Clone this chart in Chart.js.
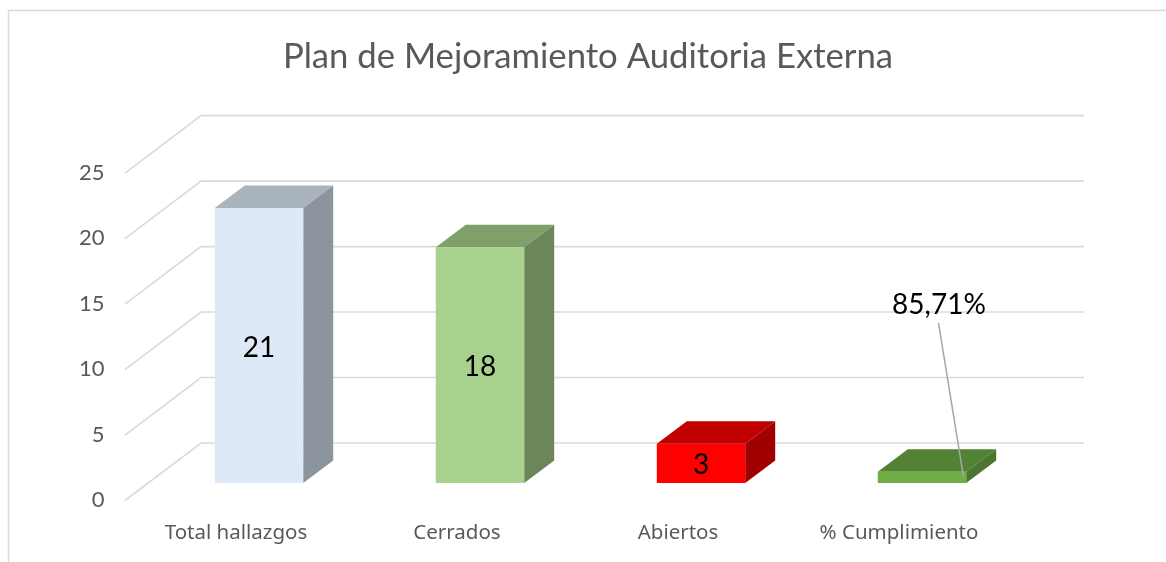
<!DOCTYPE html>
<html><head><meta charset="utf-8">
<style>html,body{margin:0;padding:0;background:#fff}#w{width:1166px;height:562px}canvas{display:block}</style>
<script src="https://cdn.jsdelivr.net/npm/chart.js@4"></script>
</head><body><div id="w"><canvas id="c" width="1166" height="562"></canvas></div>
<script>
const titleText = "Plan de Mejoramiento Auditoria Externa";
const categories = ["Total hallazgos", "Cerrados", "Abiertos", "% Cumplimiento"];
const values = [21, 18, 3, 0.8571];
const valueLabels = ["21", "18", "3", "85,71%"];
const frontColors = ["#DEE9F7", "#A9D18E", "#FF0000", "#70AD47"];
const topColors = ["#A8B3BC", "#7F9F6B", "#C00000", "#548235"];
const sideColors = ["#8C959D", "#6C855B", "#A00000", "#4B7530"];
const FONT = "Lato, sans-serif";
const DX = 30, DY = 22.5;

const scene = {
  id: 'scene',
  afterLayout(chart) { chart.scales.y.left = 0; },
  beforeDatasetsDraw(chart) {
    const c = chart.ctx, y = chart.scales.y;
    c.save();
    c.strokeStyle = '#D9D9D9'; c.lineWidth = 1.5;
    c.beginPath(); c.moveTo(8.5, 562); c.lineTo(8.5, 10.5); c.lineTo(1166, 10.5); c.stroke();
    c.lineWidth = 1.6; c.strokeStyle = '#DADADA';
    y.ticks.forEach(t => {
      const py = y.getPixelForValue(t.value) - 40;
      c.beginPath(); c.moveTo(125, py + 57.5); c.lineTo(201, py); c.lineTo(1084, py); c.stroke();
    });
    c.restore();
    const els = chart.getDatasetMeta(0).data;
    els.forEach((e, i) => {
      const l = e.x - e.width / 2, r = e.x + e.width / 2;
      c.fillStyle = topColors[i];
      c.beginPath(); c.moveTo(l, e.y); c.lineTo(l + DX, e.y - DY); c.lineTo(r + DX, e.y - DY); c.lineTo(r, e.y); c.closePath(); c.fill();
      c.fillStyle = sideColors[i];
      c.beginPath(); c.moveTo(r, e.y); c.lineTo(r + DX, e.y - DY); c.lineTo(r + DX, e.base - DY); c.lineTo(r, e.base); c.closePath(); c.fill();
    });
  },
  afterDatasetsDraw(chart) {
    const c = chart.ctx, els = chart.getDatasetMeta(0).data;
    c.save();
    c.textAlign = 'center'; c.textBaseline = 'middle';
    c.fillStyle = '#000'; c.font = '28px ' + FONT;
    els.forEach((e, i) => {
      if (i < 3) c.fillText(valueLabels[i], e.x, (e.y + e.base) / 2 + 2);
      else {
        c.fillText(valueLabels[i], e.x + 17, e.y - 167);
        c.strokeStyle = '#A6A6A6'; c.lineWidth = 1.5;
        c.beginPath(); c.moveTo(e.x + 16.5, e.y - 149); c.lineTo(e.x + 41.5, e.y + 5); c.stroke();
      }
    });
    c.restore();
  }
};

new Chart(document.getElementById('c'), {
  type: 'bar',
  data: { labels: categories, datasets: [{ data: values, backgroundColor: frontColors, borderWidth: 0, categoryPercentage: 1, barPercentage: 0.4 }] },
  plugins: [scene],
  options: {
    responsive: false, animation: false,
    layout: { padding: { left: 143.5, right: 133.5, top: 0, bottom: 0 } },
    plugins: {
      legend: { display: false }, tooltip: { enabled: false },
      title: { display: true, text: titleText, color: '#595959', font: { family: FONT, size: 34.7, weight: 'normal' }, padding: { top: 36, bottom: 78 } }
    },
    scales: {
      x: {
        grid: { display: false }, border: { display: false },
        ticks: { color: '#595959', font: { family: "'Noto Sans', sans-serif", size: 20.5 }, padding: 30, labelOffset: -23, maxRotation: 0, autoSkip: false },
        afterFit(s) { s.height = 79; }
      },
      y: {
        min: 0, max: 25,
        grid: { display: false, drawTicks: false }, border: { display: false },
        ticks: { stepSize: 5, color: '#595959', font: { family: FONT, size: 22 }, padding: 44, labelOffset: 17 },
        afterFit(s) { s.width = 5; }
      }
    }
  }
});
</script></body></html>
